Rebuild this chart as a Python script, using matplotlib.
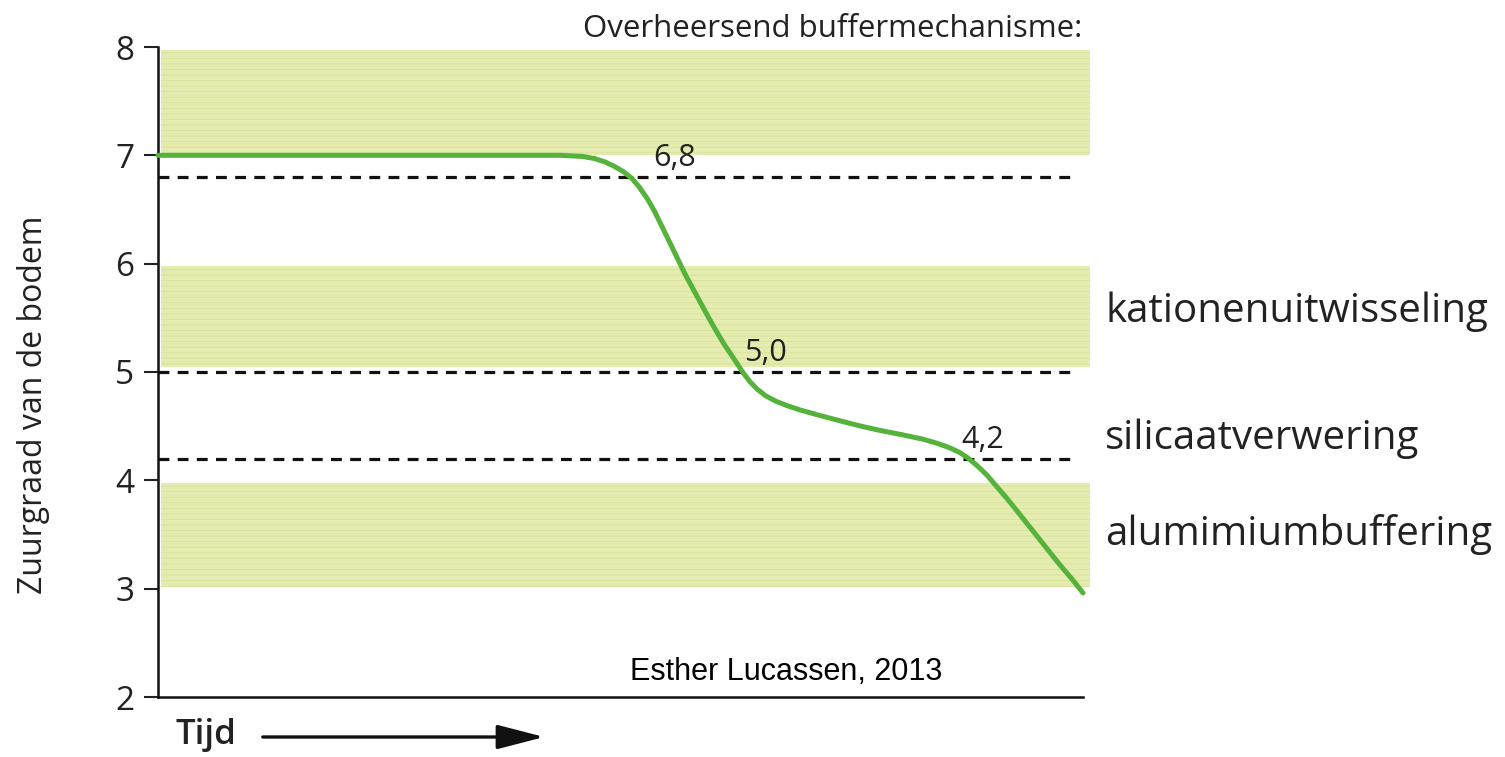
import matplotlib
matplotlib.use("Agg")
import matplotlib.pyplot as plt

plt.rcParams['font.family'] = ['Open Sans', 'DejaVu Sans']
plt.rcParams['hatch.linewidth'] = 0.6

# pH curve (time in % of axis, pH)
tijd = [0, 26.2, 43.5, 45.9, 47.2, 48.3, 49.3, 50.3, 51.2, 52.0, 52.9, 53.7,
        54.5, 55.3, 57.0, 58.9, 60.0, 61.1, 62.2, 63.2, 64.0, 64.8, 65.7,
        66.8, 68.0, 69.4, 71.5, 73.7, 76.0, 78.1, 80.5, 82.7, 84.3, 85.6,
        86.6, 87.5, 88.5, 89.6, 90.7, 92.0, 93.4, 94.8, 96.1, 97.5, 98.8, 100]
ph = [7.0, 7.0, 7.0, 6.99, 6.97, 6.94, 6.9, 6.85, 6.79, 6.71, 6.6, 6.48,
      6.34, 6.2, 5.9, 5.6, 5.43, 5.27, 5.13, 5.0, 4.91, 4.84, 4.78,
      4.73, 4.69, 4.65, 4.6, 4.55, 4.5, 4.46, 4.42, 4.38, 4.34, 4.3,
      4.26, 4.21, 4.14, 4.05, 3.94, 3.81, 3.66, 3.51, 3.37, 3.22, 3.09, 2.96]

# buffer zones (pH ranges) and threshold lines
bands = [(7.0, 7.97), (5.05, 5.98), (3.02, 3.98)]
grenzen = [6.8, 5.0, 4.2]
grens_labels = ['6,8', '5,0', '4,2']
grens_x = [53.5, 63.4, 86.8]
mechanismen = ['kationenuitwisseling', 'silicaatverwering', 'alumimiumbuffering']
mech_y = [5.56, 4.38, 3.5]

fig = plt.figure(figsize=(15.05, 7.57), dpi=100)
ax = fig.add_axes([158 / 1505, 60 / 757, (1083 - 158) / 1505, (697 - 47) / 757])

for lo, hi in bands:
    ax.fill_between([0.3, 100.8], lo, hi, facecolor='#e4ecb0', edgecolor='#d8e29b',
                    hatch='---', linewidth=0, clip_on=False, zorder=1)

for g in grenzen:
    ax.plot([0, 99.2], [g, g], color='#111111', lw=2.3, dashes=(3.4, 2.6),
            solid_capstyle='butt', zorder=2)

ax.plot(tijd, ph, color='#55b23a', lw=3.6, solid_capstyle='round',
        solid_joinstyle='round', zorder=3, clip_on=False)

for lab, x, g in zip(grens_labels, grens_x, grenzen):
    ax.text(x, g + 0.1, lab, fontsize=22, color='#222222', ha='left', va='baseline')

for lab, y in zip(mechanismen, mech_y):
    ax.text(102.4, y, lab, fontsize=29, color='#222222', ha='left', va='center',
            clip_on=False)

ax.text(45.9, 8.17, 'Overheersend buffermechanisme:', fontsize=22.5, color='#222222',
        ha='left', va='center', clip_on=False)

ax.set_xlim(0, 100)
ax.set_ylim(2, 8)
ax.set_yticks([2, 3, 4, 5, 6, 7, 8])
ax.set_xticks([])
ax.tick_params(axis='y', length=10, width=1.5, labelsize=24, pad=7, colors='#222222')
for s in ['top', 'right']:
    ax.spines[s].set_visible(False)
for s in ['left', 'bottom']:
    ax.spines[s].set_linewidth(1.8)
    ax.spines[s].set_color('#111111')

fig.text(0.022, 0.465, 'Zuurgraad van de bodem', rotation=90, fontsize=23,
         color='#222222', ha='center', va='center')
fig.text(175 / 1505, 1 - 735 / 757, 'Tijd', fontsize=25, fontweight='semibold',
         color='#222222', ha='left', va='center')
ax.annotate('', xy=(547 / 1505, 1 - 737 / 757), xytext=(260 / 1505, 1 - 737 / 757),
            xycoords='figure fraction', textcoords='figure fraction',
            arrowprops=dict(arrowstyle='-|>,head_length=2.9,head_width=0.75',
                            color='#111111', lw=2.4))
fig.text(630 / 1505, 1 - 672 / 757, 'Esther Lucassen, 2013', fontsize=22,
         family='Liberation Sans', color='black', ha='left', va='center')

fig.savefig('out.png', dpi=100, facecolor='white')
